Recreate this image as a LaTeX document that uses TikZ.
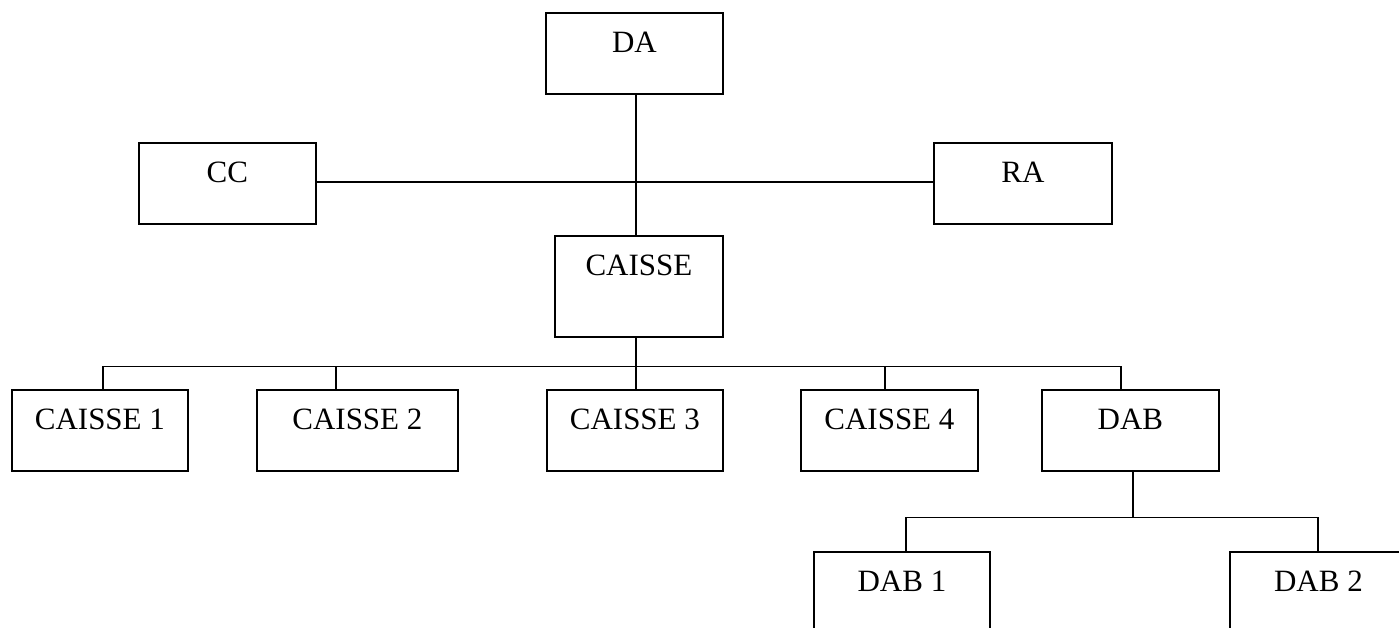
\documentclass[tikz,border=0pt]{standalone}
\usepackage{fontspec}
\setmainfont{Liberation Serif}
\begin{document}
\begin{tikzpicture}[x=1pt,y=-1pt,
  box/.style={draw,line width=1.8pt,rectangle,inner xsep=0pt,inner ysep=0pt,
    anchor=north west,font=\fontsize{31}{36}\selectfont,text height=40pt,align=center},
  link/.style={line width=1.8pt}]
\useasboundingbox (0,0) rectangle (1399,627);
\clip (0,0) rectangle (1399,627);
% boxes: anchor north west at (left, top)
\node[box,minimum width=177pt,text depth=41pt] (DA) at (545,12) {DA};
\node[box,minimum width=177pt,text depth=41pt] (CC) at (138,142) {CC};
\node[box,minimum width=178pt,text depth=41pt] (RA) at (933,142) {RA};
\node[box,minimum width=168pt,text depth=61pt] (CAISSE) at (554,235) {CAISSE};
\node[box,minimum width=176pt,text depth=41pt] (C1) at (11,389) {CAISSE 1};
\node[box,minimum width=201pt,text depth=41pt] (C2) at (256,389) {CAISSE 2};
\node[box,minimum width=176pt,text depth=41pt] (C3) at (546,389) {CAISSE 3};
\node[box,minimum width=177pt,text depth=41pt] (C4) at (800,389) {CAISSE 4};
\node[box,minimum width=177pt,text depth=41pt] (DAB) at (1041,389) {DAB};
\node[box,minimum width=176pt,text depth=100pt] (DAB1) at (813,551) {DAB 1};
\node[box,minimum width=177pt,text depth=100pt] (DAB2) at (1229,551) {DAB 2};
% connectors
\coordinate (hub) at (636,182);
\draw[link] (DA.south -| hub) -- (CAISSE.north -| hub);
\draw[link] (CC.east |- hub) -- (RA.west |- hub);
\coordinate (bus1) at (636,366.5);
\coordinate (bl) at (103,366.5);
\coordinate (br) at (1121,366.5);
\draw[link] (CAISSE.south -| bus1) -- (C3.north -| bus1);
\draw[link] (C1.north -| bl) -- (bl) -- (br) -- (DAB.north -| br);
\coordinate (d2) at (336,366.5);
\coordinate (d4) at (885,366.5);
\draw[link] (d2) -- (C2.north -| d2);
\draw[link] (d4) -- (C4.north -| d4);
\coordinate (bus2) at (1133,517.5);
\coordinate (b2l) at (906,517.5);
\coordinate (b2r) at (1318,517.5);
\draw[link] (DAB.south -| bus2) -- (bus2);
\draw[link] (DAB1.north -| b2l) -- (b2l) -- (b2r) -- (DAB2.north -| b2r);
\end{tikzpicture}
\end{document}
